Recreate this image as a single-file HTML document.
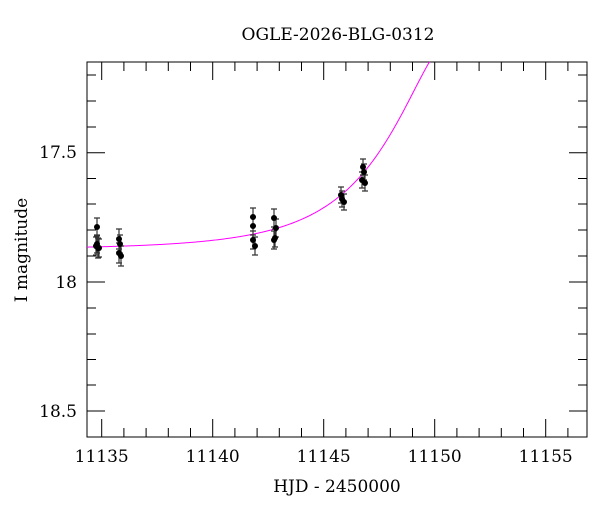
<!DOCTYPE html>
<html><head><meta charset="utf-8"><style>body{margin:0;background:#fff}svg{display:block}</style></head>
<body>
<svg width="600" height="512" xmlns="http://www.w3.org/2000/svg" font-family="DejaVu Serif, Liberation Serif, serif">
<rect width="600" height="512" fill="#fff"/>
<text x="338" y="40" font-size="17" text-anchor="middle">OGLE-2026-BLG-0312</text>
<g stroke="#000" stroke-width="1" fill="none">
<rect x="87" y="62" width="500" height="375"/>
<path d="M101.7 437v-18M101.7 62v18M212.7 437v-18M212.7 62v18M323.7 437v-18M323.7 62v18M434.7 437v-18M434.7 62v18M545.7 437v-18M545.7 62v18
M123.9 437v-9M146.1 437v-9M168.3 437v-9M190.5 437v-9M234.9 437v-9M257.1 437v-9M279.3 437v-9M301.5 437v-9M345.9 437v-9M368.1 437v-9M390.3 437v-9M412.5 437v-9M456.9 437v-9M479.1 437v-9M501.3 437v-9M523.5 437v-9M567.9 437v-9
M123.9 62v9M146.1 62v9M168.3 62v9M190.5 62v9M234.9 62v9M257.1 62v9M279.3 62v9M301.5 62v9M345.9 62v9M368.1 62v9M390.3 62v9M412.5 62v9M456.9 62v9M479.1 62v9M501.3 62v9M523.5 62v9M567.9 62v9
M87 152.7h18M587 152.7h-18M87 282h18M587 282h-18M87 411h18M587 411h-18
M87 75h9M87 101h9M87 127h9M87 178.5h9M87 204h9M87 230h9M87 256h9M87 308h9M87 334h9M87 359.5h9M87 385h9
M587 75h-9M587 101h-9M587 127h-9M587 178.5h-9M587 204h-9M587 230h-9M587 256h-9M587 308h-9M587 334h-9M587 359.5h-9M587 385h-9"/>
</g>
<g font-size="17" text-anchor="middle">
<text x="101.7" y="462">11135</text><text x="212.7" y="462">11140</text><text x="323.7" y="462">11145</text><text x="434.7" y="462">11150</text><text x="545.7" y="462">11155</text>
</g>
<g font-size="17" text-anchor="end">
<text x="77" y="158">17.5</text><text x="77" y="288">18</text><text x="77" y="417">18.5</text>
</g>
<text x="337" y="492" font-size="17" text-anchor="middle">HJD - 2450000</text>
<text transform="translate(27,250) rotate(-90)" font-size="17" text-anchor="middle">I magnitude</text>
<polyline id="curve" fill="none" stroke="#f0f" stroke-width="1" points="87,249 212,241 300,221 340,196 380,155 430,62"/>
<g stroke="#333" stroke-width="1.2">
<path d="M97 218v18M94 218h6M94 236h6 M97 235v18M94 235h6M94 253h6 M98 238v20M95 238h6M95 258h6 M99 239v18M96 239h6M96 257h6 M96 237v18M93 237h6M93 255h6
M119 229v20M116 229h6M116 249h6 M120 235v18M117 235h6M117 253h6 M119 243v20M116 243h6M116 263h6 M121 246v20M118 246h6M118 266h6
M253 208v18M250 208h6M250 226h6 M253 217v18M250 217h6M250 235h6 M253 231v18M250 231h6M250 249h6 M255 237v18M252 237h6M252 255h6
M274 209v18M271 209h6M271 227h6 M276 219v18M273 219h6M273 237h6 M275 229v18M272 229h6M272 247h6 M274 231v18M271 231h6M271 249h6
M341 187v16M338 187h6M338 203h6 M342 191v16M339 191h6M339 207h6 M344 194v16M341 194h6M341 210h6
M363 159v16M360 159h6M360 175h6 M364 164v16M361 164h6M361 180h6 M362 172v16M359 172h6M359 188h6 M365 175v16M362 175h6M362 191h6"/>
</g>
<g fill="#000">
<circle cx="97" cy="227" r="3"/><circle cx="97" cy="244" r="3"/><circle cx="98" cy="248" r="3"/><circle cx="99" cy="248" r="3"/><circle cx="96" cy="246" r="3"/>
<circle cx="119" cy="239" r="3"/><circle cx="120" cy="244" r="3"/><circle cx="119" cy="253" r="3"/><circle cx="121" cy="256" r="3"/>
<circle cx="253" cy="217" r="3"/><circle cx="253" cy="226" r="3"/><circle cx="253" cy="240" r="3"/><circle cx="255" cy="246" r="3"/>
<circle cx="274" cy="218" r="3"/><circle cx="276" cy="228" r="3"/><circle cx="275" cy="238" r="3"/><circle cx="274" cy="240" r="3"/>
<circle cx="341" cy="195" r="3"/><circle cx="342" cy="199" r="3"/><circle cx="344" cy="202" r="3"/>
<circle cx="363" cy="167" r="3"/><circle cx="364" cy="172" r="3"/><circle cx="362" cy="180" r="3"/><circle cx="365" cy="183" r="3"/>
</g>
</svg>
<script>
(function(){
var t0=11150.94,tE=4.59,u02=0.263,pts=[];
for(var x=87;x<=440;x+=1){
 var t=11135+(x-101.7)/22.2,tau=(t-t0)/tE,u=Math.sqrt(u02+tau*tau);
 var A=(u*u+2)/(u*Math.sqrt(u*u+4));
 var y=249.5-258.3*2.5*Math.log10(A);
 if(y<62){pts.push(x+",62");break;}
 pts.push(x+","+y.toFixed(2));
}
document.getElementById('curve').setAttribute('points',pts.join(' '));
})();
</script>
</body></html>
